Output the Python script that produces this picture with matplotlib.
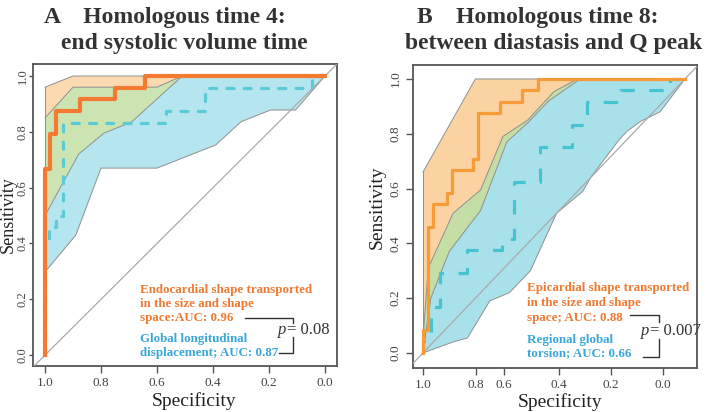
import matplotlib
matplotlib.use("Agg")
import numpy as np
import matplotlib.pyplot as plt
from matplotlib.lines import Line2D

plt.rcParams['font.family'] = ['Liberation Serif', 'DejaVu Serif']

# ---------------- Panel A data ----------------
a_or_spec = [1.0, 1.0, 0.981, 0.981, 0.962, 0.962, 0.876, 0.876, 0.751, 0.751, 0.644, 0.644, 0.0]
a_or_sens = [0.0, 0.667, 0.667, 0.792, 0.792, 0.875, 0.875, 0.917, 0.917, 0.958, 0.958, 1.0, 1.0]

a_bl_spec = [1.0, 1.0, 0.985, 0.985, 0.96, 0.96, 0.935, 0.935, 0.568, 0.568, 0.43, 0.43, 0.045, 0.045, 0.0]
a_bl_sens = [0.0, 0.417, 0.417, 0.458, 0.458, 0.5, 0.5, 0.833, 0.833, 0.875, 0.875, 0.958, 0.958, 1.0, 1.0]

a_or_hi_spec = [1.0, 0.90, 0.0]
a_or_hi_sens = [0.96, 1.0, 1.0]
a_or_lo_spec = [1.0, 0.88, 0.79, 0.69, 0.51, 0.0]
a_or_lo_sens = [0.50, 0.72, 0.795, 0.836, 1.0, 1.0]

a_bl_hi_spec = [1.0, 0.90, 0.60, 0.51, 0.0]
a_bl_hi_sens = [0.85, 0.96, 0.96, 1.0, 1.0]
a_bl_lo_spec = [1.0, 0.99, 0.89, 0.80, 0.60, 0.39, 0.30, 0.195, 0.105, 0.0]
a_bl_lo_sens = [0.30, 0.31, 0.43, 0.67, 0.67, 0.753, 0.836, 0.878, 0.878, 1.0]

a_xtick_pos = [1.0, 0.8, 0.6, 0.4, 0.2, 0.0]
a_xtick_lab = ["1.0", "0.8", "0.6", "0.4", "0.2", "0.0"]

# ---------------- Panel B data ----------------
b_or_spec = [1.0, 1.0, 0.98, 0.98, 0.96, 0.96, 0.91, 0.91, 0.89, 0.89, 0.81, 0.81, 0.79, 0.79,
             0.705, 0.705, 0.623, 0.623, 0.56, 0.56, 0.0]
b_or_sens = [0.0, 0.083, 0.083, 0.458, 0.458, 0.542, 0.542, 0.583, 0.583, 0.667, 0.667, 0.708,
             0.708, 0.875, 0.875, 0.917, 0.917, 0.958, 0.958, 1.0, 1.0]

b_bl_spec = [1.0, 1.0, 0.97, 0.97, 0.935, 0.935, 0.833, 0.833, 0.70, 0.70, 0.653, 0.653, 0.553,
             0.553, 0.432, 0.432, 0.375, 0.375, 0.248, 0.248, 0.057, 0.057, 0.0]
b_bl_sens = [0.0, 0.042, 0.042, 0.167, 0.167, 0.292, 0.292, 0.375, 0.375, 0.417, 0.417, 0.625,
             0.625, 0.75, 0.75, 0.833, 0.833, 0.917, 0.917, 0.958, 0.958, 1.0, 1.0]

b_or_hi_spec = [1.0, 0.80, 0.0]
b_or_hi_sens = [0.66, 1.0, 1.0]
b_or_lo_spec = [1.0, 0.97, 0.90, 0.78, 0.68, 0.60, 0.52, 0.40, 0.0]
b_or_lo_sens = [0.0, 0.20, 0.37, 0.52, 0.77, 0.84, 0.92, 1.0, 1.0]

b_bl_hi_spec = [1.0, 0.98, 0.885, 0.78, 0.695, 0.60, 0.50, 0.41, 0.0]
b_bl_hi_sens = [0.05, 0.31, 0.51, 0.595, 0.79, 0.85, 0.954, 1.0, 1.0]
b_bl_lo_spec = [1.0, 0.885, 0.83, 0.745, 0.67, 0.59, 0.49, 0.39, 0.36, 0.25, 0.22, 0.17, 0.095, 0.0]
b_bl_lo_sens = [0.0, 0.04, 0.055, 0.19, 0.22, 0.30, 0.51, 0.59, 0.64, 0.78, 0.81, 0.845, 0.88, 1.0]

b_xtick_pos = [1.0, 0.798, 0.691, 0.481, 0.282, 0.084]
b_xtick_lab = ["1.0", "0.8", "0.6", "0.4", "0.2", "0.0"]

ytick_pos = [0.0, 0.2, 0.4, 0.6, 0.8, 1.0]
ytick_lab = ["0.0", "0.2", "0.4", "0.6", "0.8", "1.0"]

ORANGE_TXT = '#F07A32'
BLUE_TXT = '#39A7DA'
EDGE = '#8f8f8f'
AXC = '#555555'

W, H = 714, 412
fig = plt.figure(figsize=(W / 100, H / 100), dpi=100)


def fx(px):
    return px / W


def fy(py):
    return 1 - py / H


def interp(spec, sens, grid):
    s = np.asarray(spec, float)[::-1]
    v = np.asarray(sens, float)[::-1]
    return np.interp(grid, s, v)


def bands(ax, orb, blb, c_or, c_bl, c_ov):
    grid = np.linspace(0.0, 1.0, 2001)
    o_hi = interp(orb[0], orb[1], grid)
    o_lo = interp(orb[2], orb[3], grid)
    b_hi = interp(blb[0], blb[1], grid)
    b_lo = interp(blb[2], blb[3], grid)
    ax.fill_between(grid, o_lo, o_hi, facecolor=c_or, edgecolor='none', lw=0, zorder=1)
    ax.fill_between(grid, b_lo, b_hi, facecolor=c_bl, edgecolor='none', lw=0, zorder=1.1)
    ov_lo = np.maximum(o_lo, b_lo)
    ov_hi = np.minimum(o_hi, b_hi)
    ax.fill_between(grid, ov_lo, ov_hi, where=ov_hi > ov_lo, interpolate=True,
                    facecolor=c_ov, edgecolor='none', lw=0, zorder=1.2)
    for xs, ys in [(orb[0], orb[1]), (orb[2], orb[3]), (blb[0], blb[1]), (blb[2], blb[3])]:
        ax.plot(xs, ys, color=EDGE, lw=0.7, zorder=2)
    ax.plot([orb[0][0], orb[2][0]], [orb[1][0], orb[3][0]], color=EDGE, lw=0.7, zorder=2)
    ax.plot([blb[0][0], blb[2][0]], [blb[1][0], blb[3][0]], color=EDGE, lw=0.7, zorder=2)


def setup(ax, xlim, ylim, xpos, xlab, ylen, ypad, ysize):
    ax.set_xlim(*xlim)
    ax.set_ylim(*ylim)
    ax.set_xticks(xpos)
    ax.set_xticklabels(xlab)
    ax.set_yticks(ytick_pos)
    ax.set_yticklabels(ytick_lab, rotation=90, va='center')
    for s in ax.spines.values():
        s.set_color(AXC)
        s.set_linewidth(1.3)
    ax.tick_params(colors=AXC, labelcolor='#444444', labelsize=9.5, width=1.0)
    ax.tick_params(axis='x', length=5, pad=3)
    ax.tick_params(axis='y', length=ylen, pad=ypad, labelsize=ysize)
    ax.axline((1, 0), (0, 1), color='#aaaaaa', lw=0.9, zorder=3)


# ---------------- Panel A ----------------
axA = fig.add_axes([fx(33), fy(366), fx(337) - fx(33), fy(64) - fy(366)])
bands(axA, (a_or_hi_spec, a_or_hi_sens, a_or_lo_spec, a_or_lo_sens),
      (a_bl_hi_spec, a_bl_hi_sens, a_bl_lo_spec, a_bl_lo_sens),
      '#FCDAB0', '#B5E5EE', '#CCE4B2')
axA.plot(a_bl_spec, a_bl_sens, color='#5ACBD6', lw=2.3, linestyle=(0, (2.2, 3.2)),
         dash_capstyle='round', zorder=4)
axA.plot(a_or_spec, a_or_sens, color='#F37A30', lw=3.0, zorder=5)
setup(axA, (1.043, -0.043), (-0.039, 1.043), a_xtick_pos, a_xtick_lab, 3, 0, 9)

# ---------------- Panel B ----------------
axB = fig.add_axes([fx(413), fy(368), fx(697) - fx(413), fy(65) - fy(368)])
bands(axB, (b_or_hi_spec, b_or_hi_sens, b_or_lo_spec, b_or_lo_sens),
      (b_bl_hi_spec, b_bl_hi_sens, b_bl_lo_spec, b_bl_lo_sens),
      '#FBD3A2', '#A9E1EA', '#C4DEA6')
axB.plot(b_bl_spec, b_bl_sens, color='#45C3D3', lw=2.3, linestyle=(0, (4.5, 4.5)), zorder=4)
axB.plot(b_or_spec, b_or_sens, color='#F79A38', lw=2.3, zorder=5)
setup(axB, (1.038, -0.046), (-0.055, 1.051), b_xtick_pos, b_xtick_lab, 5, 3, 9.5)

# ---------------- Titles & labels ----------------
tkw = dict(fontsize=17, fontweight='bold', color='#333333', ha='center', va='center')
fig.text(fx(165), fy(18), "A    Homologous time 4:", **tkw)
fig.text(fx(184), fy(43), "end systolic volume time", **tkw)
fig.text(fx(538), fy(18), "B    Homologous time 8:", **tkw)
fig.text(fx(554), fy(43), "between diastasis and Q peak", **tkw)

lkw = dict(color='#222222', ha='center', va='center')
fig.text(fx(8), fy(215), "Sensitivity", rotation=90, fontsize=13, **lkw)
fig.text(fx(377), fy(207), "Sensitivity", rotation=90, fontsize=14, **lkw)
fig.text(fx(194), fy(401), "Specificity", fontsize=14, **lkw)
fig.text(fx(560), fy(402), "Specificity", fontsize=14, **lkw)

# ---------------- Annotations A ----------------
akw = dict(fontsize=9.4, fontweight='bold', ha='left', va='center')
fig.text(fx(140), fy(290), "Endocardial shape transported", color=ORANGE_TXT, **akw)
fig.text(fx(140), fy(304), "in the size and shape", color=ORANGE_TXT, **akw)
fig.text(fx(140), fy(318.5), "space:AUC: 0.96", color=ORANGE_TXT, **akw)
fig.text(fx(140), fy(339), "Global longitudinal", color=BLUE_TXT, **akw)
fig.text(fx(140), fy(353), "displacement; AUC: 0.87", color=BLUE_TXT, **akw)
bk = dict(color='#333333', lw=1.0)
fig.add_artist(Line2D([fx(245), fx(293), fx(293)], [fy(318), fy(318), fy(323)], **bk))
fig.add_artist(Line2D([fx(293), fx(293), fx(279)], [fy(337), fy(353), fy(353)], **bk))
pkw = dict(fontsize=12, color='#333333', ha='left', va='center')
fig.text(fx(278), fy(330), "p", style='italic', **pkw)
fig.text(fx(287), fy(330), "= 0.08", **pkw)

# ---------------- Annotations B ----------------
fig.text(fx(527), fy(288), "Epicardial shape transported", color=ORANGE_TXT, **akw)
fig.text(fx(527), fy(303), "in the size and shape", color=ORANGE_TXT, **akw)
fig.text(fx(527), fy(318), "space; AUC: 0.88", color=ORANGE_TXT, **akw)
fig.text(fx(527), fy(340), "Regional global", color=BLUE_TXT, **akw)
fig.text(fx(527), fy(353.5), "torsion; AUC: 0.66", color=BLUE_TXT, **akw)
fig.add_artist(Line2D([fx(630), fx(658.5), fx(658.5)], [fy(315), fy(315), fy(322)], **bk))
fig.add_artist(Line2D([fx(658.5), fx(658.5), fx(643)], [fy(339), fy(357), fy(357)], **bk))
fig.text(fx(641), fy(331), "p", style='italic', **pkw)
fig.text(fx(650), fy(331), "= 0.007", **pkw)

fig.savefig("out.png", dpi=100)
